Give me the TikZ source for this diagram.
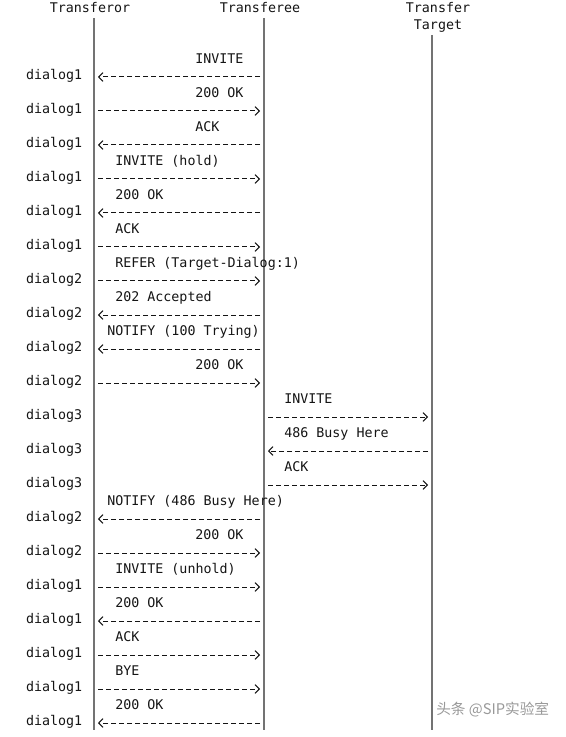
\documentclass[tikz,border=0pt]{standalone}
\usepackage{fontspec}
\setmonofont{DejaVu Sans Mono}
\newfontfamily\cjk{Noto Sans CJK SC}
\usetikzlibrary{arrows.meta}

\begin{document}
\begin{tikzpicture}[x=0.75pt,y=-0.75pt,
  every node/.style={inner sep=0pt,font=\ttfamily\fontsize{10}{12}\selectfont,text=black!92},
  actor/.style={anchor=mid},
  dlg/.style={anchor=mid east},
  lbl/.style={anchor=mid west},
  life/.style={black!55,line width=0.9pt},
  msg/.style={-{Straight Barb[length=3.2pt,width=6.5pt]},dash pattern=on 3.75pt off 2.25pt,
              line width=0.75pt,black!92,shorten <=3pt,shorten >=3pt}]
  \useasboundingbox (0,0) rectangle (565,737);

  % parties
  \node[actor] (tor) at (90,9.5) {Transferor};
  \node[actor] (tee) at (260,9.5) {Transferee};
  \node[actor] (tgt) at (438,9.5) {Transfer};
  \node[actor] (tgt2) at (438,26.5) {Target};

  % lifelines
  \coordinate (torTop) at (94,18);
  \coordinate (torBot) at (94,730);
  \coordinate (teeTop) at (264,18);
  \coordinate (teeBot) at (264,730);
  \coordinate (tgtTop) at (432,35);
  \coordinate (tgtBot) at (432,730);
  \draw[life] (torTop) -- (torBot);
  \draw[life] (teeTop) -- (teeBot);
  \draw[life] (tgtTop) -- (tgtBot);

  % original call
  \node[lbl] (m1) at (195,61) {INVITE};
  \node[dlg] (d1) at (82.5,77) {dialog1};
  \draw[msg] (teeTop |- d1.mid) -- (torTop |- d1.mid);
  \node[lbl] (m2) at (195,95) {200 OK};
  \node[dlg] (d2) at (82.5,111) {dialog1};
  \draw[msg] (torTop |- d2.mid) -- (teeTop |- d2.mid);
  \node[lbl] (m3) at (195,129) {ACK};
  \node[dlg] (d3) at (82.5,145) {dialog1};
  \draw[msg] (teeTop |- d3.mid) -- (torTop |- d3.mid);

  % hold
  \node[lbl] (m4) at (115,163) {INVITE (hold)};
  \node[dlg] (d4) at (82.5,179) {dialog1};
  \draw[msg] (torTop |- d4.mid) -- (teeTop |- d4.mid);
  \node[lbl] (m5) at (115,197) {200 OK};
  \node[dlg] (d5) at (82.5,213) {dialog1};
  \draw[msg] (teeTop |- d5.mid) -- (torTop |- d5.mid);
  \node[lbl] (m6) at (115,231) {ACK};
  \node[dlg] (d6) at (82.5,247) {dialog1};
  \draw[msg] (torTop |- d6.mid) -- (teeTop |- d6.mid);

  % refer
  \node[lbl] (m7) at (115,265) {REFER (Target-Dialog:1)};
  \node[dlg] (d7) at (82.5,281) {dialog2};
  \draw[msg] (torTop |- d7.mid) -- (teeTop |- d7.mid);
  \node[lbl] (m8) at (115,299) {202 Accepted};
  \node[dlg] (d8) at (82.5,315) {dialog2};
  \draw[msg] (teeTop |- d8.mid) -- (torTop |- d8.mid);
  \node[lbl] (m9) at (107,333) {NOTIFY (100 Trying)};
  \node[dlg] (d9) at (82.5,349) {dialog2};
  \draw[msg] (teeTop |- d9.mid) -- (torTop |- d9.mid);
  \node[lbl] (m10) at (195,367) {200 OK};
  \node[dlg] (d10) at (82.5,383) {dialog2};
  \draw[msg] (torTop |- d10.mid) -- (teeTop |- d10.mid);

  % attempt to the target, busy
  \node[lbl] (m11) at (284,401) {INVITE};
  \node[dlg] (d11) at (82.5,417) {dialog3};
  \draw[msg] (teeTop |- d11.mid) -- (tgtTop |- d11.mid);
  \node[lbl] (m12) at (284,435) {486 Busy Here};
  \node[dlg] (d12) at (82.5,451) {dialog3};
  \draw[msg] (tgtTop |- d12.mid) -- (teeTop |- d12.mid);
  \node[lbl] (m13) at (284,469) {ACK};
  \node[dlg] (d13) at (82.5,485) {dialog3};
  \draw[msg] (teeTop |- d13.mid) -- (tgtTop |- d13.mid);

  % failure reported back
  \node[lbl] (m14) at (107,503) {NOTIFY (486 Busy Here)};
  \node[dlg] (d14) at (82.5,519) {dialog2};
  \draw[msg] (teeTop |- d14.mid) -- (torTop |- d14.mid);
  \node[lbl] (m15) at (195,537) {200 OK};
  \node[dlg] (d15) at (82.5,553) {dialog2};
  \draw[msg] (torTop |- d15.mid) -- (teeTop |- d15.mid);

  % unhold and hang up
  \node[lbl] (m16) at (115,571) {INVITE (unhold)};
  \node[dlg] (d16) at (82.5,587) {dialog1};
  \draw[msg] (torTop |- d16.mid) -- (teeTop |- d16.mid);
  \node[lbl] (m17) at (115,605) {200 OK};
  \node[dlg] (d17) at (82.5,621) {dialog1};
  \draw[msg] (teeTop |- d17.mid) -- (torTop |- d17.mid);
  \node[lbl] (m18) at (115,639) {ACK};
  \node[dlg] (d18) at (82.5,655) {dialog1};
  \draw[msg] (torTop |- d18.mid) -- (teeTop |- d18.mid);
  \node[lbl] (m19) at (115,673) {BYE};
  \node[dlg] (d19) at (82.5,689) {dialog1};
  \draw[msg] (torTop |- d19.mid) -- (teeTop |- d19.mid);
  \node[lbl] (m20) at (115,707) {200 OK};
  \node[dlg] (d20) at (82.5,723) {dialog1};
  \draw[msg] (teeTop |- d20.mid) -- (torTop |- d20.mid);

  % watermark
  \node[anchor=mid west,font=\cjk\fontsize{11}{13}\selectfont,text=black!40] (wm) at (436,712) {头条 @SIP实验室};

\end{tikzpicture}
\end{document}
